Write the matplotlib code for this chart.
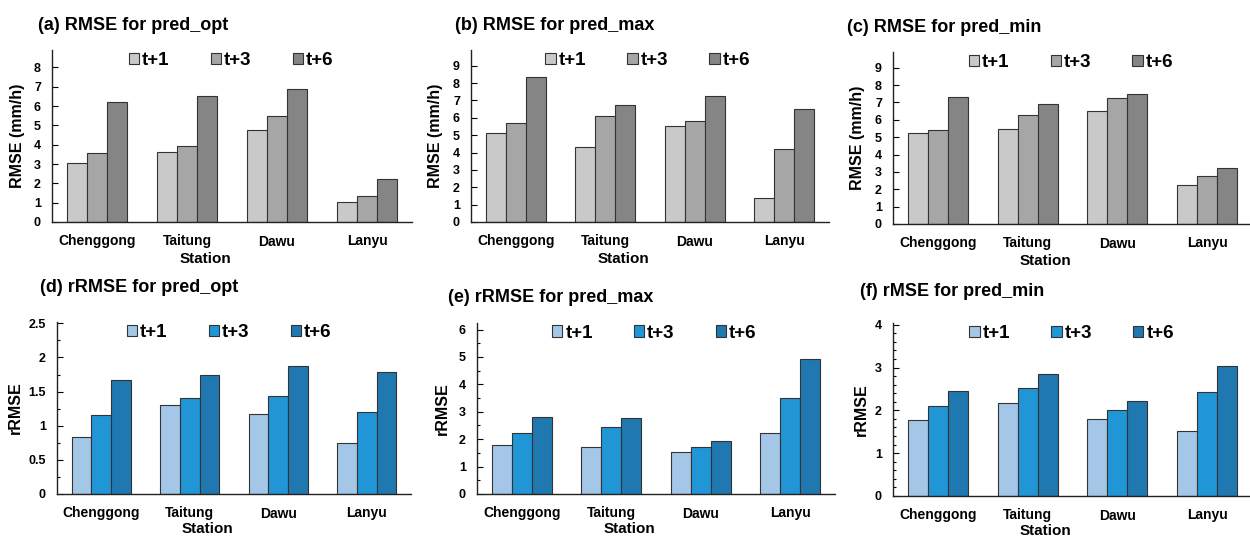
import numpy as np
import matplotlib
import matplotlib.pyplot as plt
from matplotlib.ticker import MultipleLocator, AutoMinorLocator, FuncFormatter

matplotlib.use('Agg')

plt.rcParams['font.family'] = ['Liberation Sans', 'DejaVu Sans']
plt.rcParams['font.weight'] = 'bold'

stations = ['Chenggong', 'Taitung', 'Dawu', 'Lanyu']
leads = ['t+1', 't+3', 't+6']

# RMSE (mm/h), one list per lead time, ordered like stations
rmse_opt = [[3.05, 3.64, 4.76, 1.05],
            [3.59, 3.91, 5.48, 1.36],
            [6.19, 6.50, 6.86, 2.24]]
rmse_max = [[5.15, 4.33, 5.54, 1.36],
            [5.69, 6.09, 5.80, 4.23],
            [8.37, 6.72, 7.28, 6.49]]
rmse_min = [[5.21, 5.46, 6.49, 2.24],
            [5.40, 6.26, 7.24, 2.78],
            [7.32, 6.90, 7.47, 3.24]]

# relative RMSE
rrmse_opt = [[0.84, 1.30, 1.17, 0.74],
             [1.16, 1.41, 1.44, 1.20],
             [1.67, 1.74, 1.87, 1.79]]
rrmse_max = [[1.77, 1.71, 1.52, 2.23],
             [2.23, 2.46, 1.70, 3.50],
             [2.82, 2.79, 1.95, 4.94]]
rrmse_min = [[1.77, 2.17, 1.80, 1.52],
             [2.10, 2.53, 2.02, 2.42],
             [2.45, 2.84, 2.21, 3.03]]

gray_colors = ['#c9c9c9', '#a6a6a6', '#858585']
blue_colors = ['#a4c7e7', '#2196d6', '#1f78b0']

W, H = 1250, 536
fig = plt.figure(figsize=(W / 100, H / 100), dpi=100)


def px_axes(left, right, bottom, top):
    # pixel box (from top-left) -> figure fraction
    return fig.add_axes([left / W, 1 - bottom / H, (right - left) / W, (bottom - top) / H])


panels = [
    # title, data, colours, ylabel, ymax, major, minor, box, title pos,
    # legend x, ylabel x, xlabel y
    ('(a) RMSE for pred_opt', rmse_opt, gray_colors, 'RMSE (mm/h)', 8.9, 1, None,
     (52, 412, 222, 50), (38, 25), 0.193, -0.075, -0.175),
    ('(b) RMSE for pred_max', rmse_max, gray_colors, 'RMSE (mm/h)', 9.9, 1, None,
     (471, 829, 222, 50), (455, 25), 0.187, -0.078, -0.175),
    ('(c) RMSE for pred_min', rmse_min, gray_colors, 'RMSE (mm/h)', 9.9, 1, None,
     (893, 1252, 224, 52), (847, 27), 0.19, -0.078, -0.175),
    ('(d) rRMSE for pred_opt', rrmse_opt, blue_colors, 'rRMSE', 2.52, 0.5, 2,
     (57, 411, 494, 322), (40, 288), 0.176, -0.096, -0.163),
    ('(e) rRMSE for pred_max', rrmse_max, blue_colors, 'rRMSE', 6.24, 1, 2,
     (477, 835, 494, 323), (448, 297), 0.189, -0.075, -0.163),
    ('(f) rMSE for pred_min', rrmse_min, blue_colors, 'rRMSE', 4.04, 1, 5,
     (893, 1252, 496, 323), (860, 292), 0.192, -0.067, -0.163),
]

x = np.arange(len(stations))
w = 0.223

for title, data, colors, ylabel, ymax, major, minor, box, tpos, lx, ylx, xly in panels:
    ax = px_axes(*box)
    for i, (vals, c) in enumerate(zip(data, colors)):
        ax.bar(x + (i - 1) * w, vals, w, color=c, edgecolor='#333333',
               linewidth=0.8, label=leads[i])
    ax.set_xlim(-0.5, 3.5)
    ax.set_ylim(0, ymax)
    ax.yaxis.set_major_locator(MultipleLocator(major))
    ax.yaxis.set_major_formatter(FuncFormatter(lambda v, pos: '%g' % v))
    if minor:
        ax.yaxis.set_minor_locator(AutoMinorLocator(minor))
    ax.set_xticks(x)
    ax.set_xticklabels(stations, fontsize=10, fontweight='bold')
    ax.tick_params(axis='x', length=0, pad=9)
    ax.tick_params(axis='y', which='both', direction='in', labelsize=9,
                   pad=8, width=0.8)
    ax.tick_params(axis='y', which='major', length=4)
    ax.tick_params(axis='y', which='minor', length=2)
    for s in ['top', 'right']:
        ax.spines[s].set_visible(False)
    for s in ['left', 'bottom']:
        ax.spines[s].set_linewidth(1.0)
        ax.spines[s].set_color('#222222')
    ax.set_ylabel(ylabel, fontsize=11.5, fontweight='bold')
    ax.yaxis.set_label_coords(ylx, 0.5)
    ax.set_xlabel('Station', fontsize=11, fontweight='bold')
    ax.xaxis.set_label_coords(0.425, xly)
    ax.legend(loc='center left', bbox_to_anchor=(lx, 0.94), ncol=3,
              frameon=False, handlelength=0.55, handleheight=0.55,
              handletextpad=0.15, columnspacing=2.2, borderaxespad=0,
              prop={'weight': 'bold', 'size': 13.5})
    fig.text(tpos[0] / W, 1 - tpos[1] / H, title, fontsize=13, fontweight='bold',
             va='center', ha='left')

fig.savefig('out.png', dpi=100, facecolor='white')
